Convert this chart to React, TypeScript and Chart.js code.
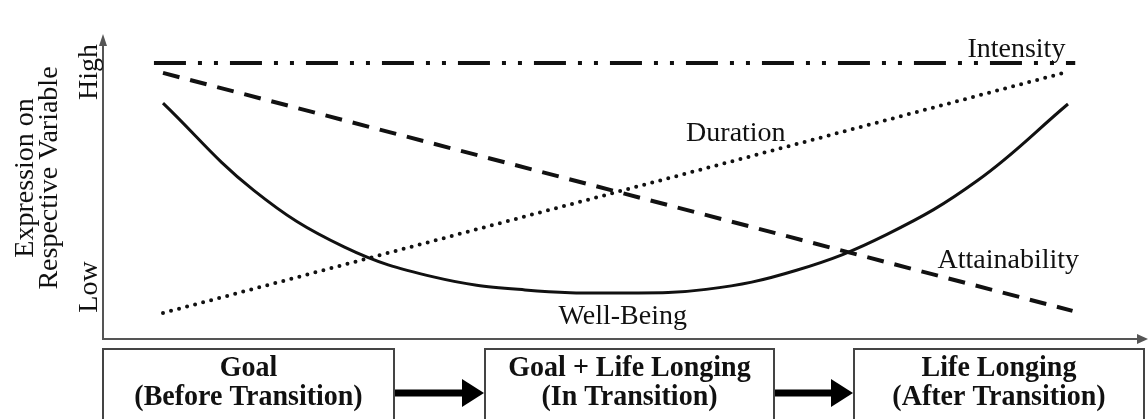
import React, { useEffect, useRef } from "react";
import { Chart, registerables } from "chart.js";

Chart.register(...registerables);

// ---- data ----
const phaseX = [0, 1, 2, 3, 4, 5, 6, 7, 8, 9, 10];
const wellBeing = [7.89, 4.98, 3.08, 2.07, 1.64, 1.54, 1.66, 2.3, 3.5, 5.3, 7.86];
const intensityX = [-0.1, 10.08];
const intensity = [9.23, 9.23];
const attainabilityX = [0, 10.05];
const attainability = [8.9, 0.94];
const durationX = [0, 9.95];
const duration = [0.87, 8.9];
const seriesNames = ["Intensity", "Attainability", "Duration", "Well-Being"];
const yTickLabels = ["Low", "High"];
const yTickValues = [1.74, 8.93];
const axisTitleLines = ["Expression on", "Respective Variable"];
const stageTitles = ["Goal", "Goal + Life Longing", "Life Longing"];
const stageSubtitles = ["(Before Transition)", "(In Transition)", "(After Transition)"];

// label anchor positions (data units) for the series names
const labelAnchors = [
  { x: 9.43, y: 9.43 },
  { x: 9.34, y: 2.37 },
  { x: 6.33, y: 6.62 },
  { x: 5.08, y: 0.5 },
];

const INK = "#111";
const AXIS = "#555";
const SERIF = '"Liberation Serif", "Times New Roman", serif';

const toPts = (xs: number[], ys: number[]) => xs.map((x, i) => ({ x, y: ys[i] }));

const decorPlugin = {
  id: "decor",
  afterDraw(chart: any) {
    const ctx: CanvasRenderingContext2D = chart.ctx;
    const area = chart.chartArea;
    const xs = chart.scales.x;
    const ys = chart.scales.y;
    ctx.save();

    // axes
    ctx.strokeStyle = AXIS;
    ctx.fillStyle = AXIS;
    ctx.lineWidth = 2;
    ctx.beginPath();
    ctx.moveTo(area.left, area.top - 2);
    ctx.lineTo(area.left, area.bottom);
    ctx.lineTo(area.right - 4, area.bottom);
    ctx.stroke();
    // y arrow
    ctx.beginPath();
    ctx.moveTo(area.left, area.top - 6);
    ctx.lineTo(area.left - 4, area.top + 6);
    ctx.lineTo(area.left + 4, area.top + 6);
    ctx.closePath();
    ctx.fill();
    // x arrow
    ctx.beginPath();
    ctx.moveTo(area.right + 3, area.bottom);
    ctx.lineTo(area.right - 8, area.bottom - 5);
    ctx.lineTo(area.right - 8, area.bottom + 5);
    ctx.closePath();
    ctx.fill();

    // series labels
    ctx.fillStyle = INK;
    ctx.font = `28px ${SERIF}`;
    ctx.textAlign = "center";
    ctx.textBaseline = "alphabetic";
    seriesNames.forEach((name, i) => {
      const a = labelAnchors[i];
      ctx.fillText(name, xs.getPixelForValue(a.x), ys.getPixelForValue(a.y));
    });

    // y tick labels (rotated)
    yTickLabels.forEach((t, i) => {
      ctx.save();
      ctx.translate(area.left - 6, ys.getPixelForValue(yTickValues[i]));
      ctx.rotate(-Math.PI / 2);
      ctx.fillText(t, 0, 0);
      ctx.restore();
    });

    // y axis title (two rotated lines)
    const midY = 178;
    const titleBaselines = [area.left - 70, area.left - 46];
    axisTitleLines.forEach((t, i) => {
      ctx.save();
      ctx.translate(titleBaselines[i], midY);
      ctx.rotate(-Math.PI / 2);
      ctx.fillText(t, 0, 0);
      ctx.restore();
    });

    // stage boxes
    const boxes = [
      [103, 394],
      [485, 774],
      [854, 1144],
    ];
    const boxTop = 349;
    ctx.strokeStyle = "#444";
    ctx.lineWidth = 2;
    boxes.forEach(([l, r], i) => {
      ctx.strokeRect(l, boxTop, r - l, 100);
      const cx = (l + r) / 2;
      ctx.fillStyle = INK;
      ctx.font = `bold 28px ${SERIF}`;
      ctx.textAlign = "center";
      [[stageTitles[i], 376], [stageSubtitles[i], 405]].forEach(([txt, base]) => {
        ctx.save();
        ctx.translate(cx, base as number);
        ctx.scale(1, 1.05);
        ctx.fillText(txt as string, 0, 0);
        ctx.restore();
      });
    });

    // arrows between boxes
    ctx.fillStyle = "#000";
    const arrowY = 393;
    for (let i = 0; i < boxes.length - 1; i++) {
      const x1 = boxes[i][1] + 1;
      const x2 = boxes[i + 1][0] - 1;
      const head = x2 - 22;
      ctx.fillRect(x1, arrowY - 3.5, head - x1 + 1, 7);
      ctx.beginPath();
      ctx.moveTo(head, arrowY - 14);
      ctx.lineTo(head, arrowY + 14);
      ctx.lineTo(x2, arrowY);
      ctx.closePath();
      ctx.fill();
    }
    ctx.restore();
  },
};

export default function App() {
  const ref = useRef<HTMLCanvasElement | null>(null);
  useEffect(() => {
    if (!ref.current) return;
    const chart = new Chart(ref.current, {
      type: "line",
      data: {
        datasets: [
          {
            label: seriesNames[0],
            data: toPts(intensityX, intensity),
            borderColor: INK,
            borderWidth: 4,
            borderDash: [32, 12, 4, 12, 4, 12],
            pointRadius: 0,
            fill: false,
          },
          {
            label: seriesNames[1],
            data: toPts(attainabilityX, attainability),
            borderColor: INK,
            borderWidth: 4,
            borderDash: [17, 11],
            pointRadius: 0,
            fill: false,
          },
          {
            label: seriesNames[2],
            data: toPts(durationX, duration),
            borderColor: INK,
            borderWidth: 4,
            borderDash: [0, 8.3],
            borderCapStyle: "round",
            pointRadius: 0,
            fill: false,
          },
          {
            label: seriesNames[3],
            data: toPts(phaseX, wellBeing),
            borderColor: INK,
            borderWidth: 3,
            tension: 0.4,
            pointRadius: 0,
            fill: false,
          },
        ],
      },
      options: {
        responsive: false,
        animation: false,
        devicePixelRatio: 1,
        layout: { padding: { left: 103, right: 3, top: 40, bottom: 80 } },
        plugins: { legend: { display: false }, tooltip: { enabled: false }, title: { display: false } },
        scales: {
          x: { type: "linear", min: -0.663, max: 10.851, display: false },
          y: { type: "linear", min: 0, max: 10, display: false },
        },
      },
      plugins: [decorPlugin],
    });
    return () => chart.destroy();
  }, []);
  return (
    <div style={{ position: "absolute", left: 0, top: 0, width: 1148, height: 419, background: "#fff" }}>
      <canvas ref={ref} width={1148} height={419} />
    </div>
  );
}
